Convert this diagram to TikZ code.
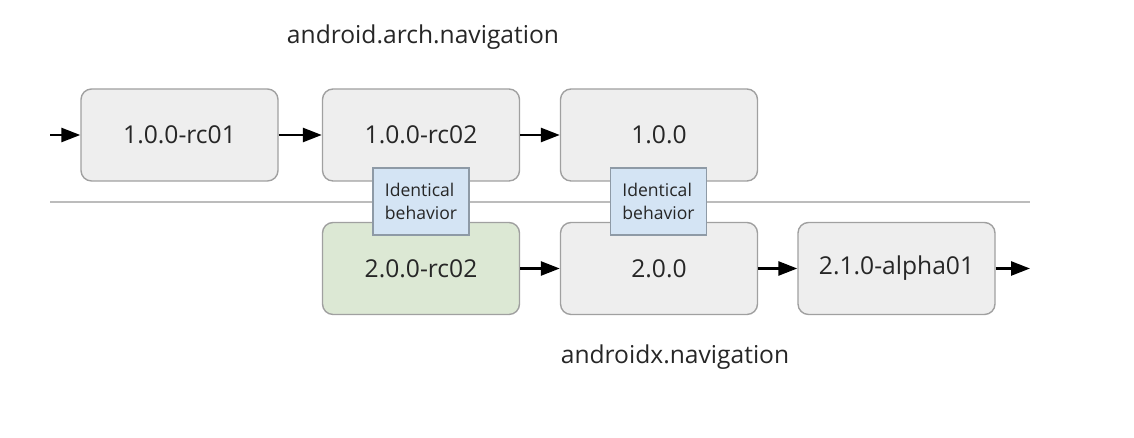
\documentclass[tikz,border=0pt]{standalone}
\usepackage{fontspec}
\setmainfont{Open Sans}
\usetikzlibrary{arrows.meta}
\definecolor{boxgray}{HTML}{EEEEEE}
\definecolor{edgegray}{HTML}{A0A0A0}
\definecolor{boxgreen}{HTML}{DCE8D4}
\definecolor{notblue}{HTML}{D4E4F4}
\definecolor{notedge}{HTML}{8E9AA6}
\definecolor{txtgray}{HTML}{262626}
\tikzset{
  version/.style={draw=edgegray, line width=0.8pt, fill=boxgray, rounded corners=6pt,
    minimum width=3.94cm, minimum height=1.84cm, font=\fontsize{14}{16}\selectfont, text=txtgray},
  same/.style={draw=notedge, line width=0.8pt, fill=notblue, minimum width=1.92cm,
    minimum height=1.34cm, inner sep=1pt, align=left, font=\fontsize{10}{13}\selectfont, text=txtgray},
  pkg/.style={font=\fontsize{14}{16}\selectfont, text=txtgray},
  next/.style={-{Triangle[length=0.38cm,width=0.28cm]}, line width=1.5pt}
}
\begin{document}
\begin{tikzpicture}
            \useasboundingbox (0,0) rectangle (22.68,-8.76);
            \node [pkg] (arch) at (8.46, -0.74) {android.arch.navigation};
            \node [pkg] (androidx) at (13.5, -7.14) {androidx.navigation};

            \node [version] (rcA) at (3.59, -2.70) {1.0.0-rc01};
            \node [version] (rcB) at (8.42, -2.70) {1.0.0-rc02};
            \node [version] (stable) at (13.18, -2.70) {1.0.0};
            \node [version, fill=boxgreen] (xrcB) at (8.42, -5.37) {2.0.0-rc02};
            \node [version] (xstable) at (13.18, -5.37) {2.0.0};
            \node [version] (xalpha) at (17.93, -5.37) {2.1.0-alpha01};

            \coordinate (in) at (1.0, -2.70);
            \coordinate (out) at (20.6, -5.37);
            \coordinate (lineL) at (1.0, -4.04);
            \coordinate (lineR) at (20.6, -4.04);

            \draw [edgegray!70, line width=1.2pt] (lineL) -- (lineR);

            \draw [next] (in) -- (rcA);
            \draw [next] (rcA) -- (rcB);
            \draw [next] (rcB) -- (stable);
            \draw [next] (xrcB) -- (xstable);
            \draw [next] (xstable) -- (xalpha);
            \draw [next] (xalpha) -- (out);

            \node [same] (sameA) at (8.42, -4.03) {Identical\\behavior};
            \node [same] (sameB) at (13.17, -4.03) {Identical\\behavior};
        \end{tikzpicture}
\end{document}
